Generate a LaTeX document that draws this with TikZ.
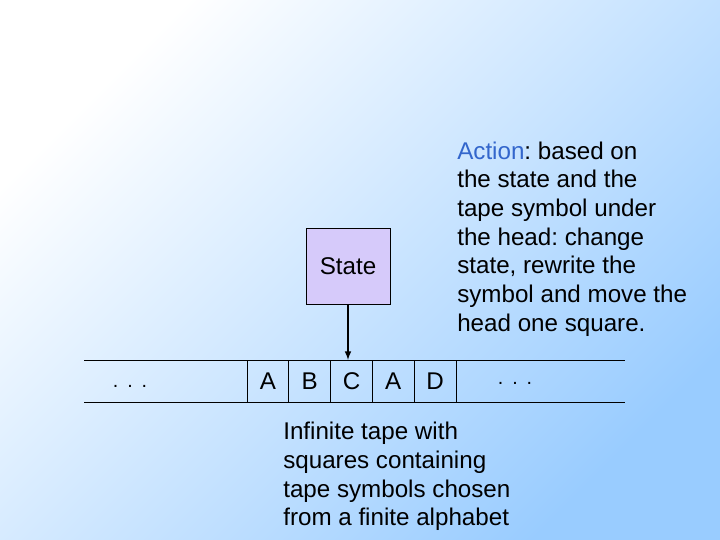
\documentclass[tikz,border=0pt]{standalone}
\usepackage{fontspec}
\setmainfont{Liberation Sans}
\usetikzlibrary{positioning}
\definecolor{bgblue}{RGB}{153,204,255}
\definecolor{statefill}{RGB}{214,202,250}
\definecolor{actionblue}{RGB}{51,102,204}
\frenchspacing
\newcommand{\tapedots}{.\hspace{0.45em}.\hspace{0.45em}.}
\tikzset{
  bigfont/.style = {font=\fontsize{17.2}{20.4}\selectfont},
  tapecell/.style = {draw, bigfont, line width=0.7pt, minimum width=1.045cm, minimum height=1.05cm, inner sep=0pt, outer sep=0pt},
  note/.style = {bigfont, anchor=north west, inner sep=0pt, align=left}
}

\begin{document}
\begin{tikzpicture}
\useasboundingbox (0,0) rectangle (18,13.5);
\shade[top color=white, bottom color=bgblue, shading angle=45] (0,0) rectangle (18,13.5);
\node[draw, line width=0.7pt, fill=statefill, bigfont, minimum width=2.1cm, minimum height=1.9cm] (st) at (8.7,6.85) {State};
\node[tapecell, anchor=north west] (c1) at (6.175,4.5) {A};
\node[tapecell, right=0pt of c1] (c2) {B};
\node[tapecell, right=0pt of c2] (c3) {C};
\node[tapecell, right=0pt of c3] (c4) {A};
\node[tapecell, right=0pt of c4] (c5) {D};
\coordinate (tl) at (2.1,4.5);
\coordinate (tr) at (15.625,4.5);
\coordinate (bl) at (2.1,3.45);
\coordinate (br) at (15.625,3.45);
\draw[line width=0.7pt] (tl) -- (tr);
\draw[line width=0.7pt] (bl) -- (br);
\node[font=\fontsize{14}{16}\selectfont, anchor=base] (ld) at (3.25,3.8) {\tapedots};
\node[font=\fontsize{14}{16}\selectfont, anchor=base] (rd) at (12.875,3.9) {\tapedots};
\draw[-latex, line width=1.1pt] (st.south) -- (st.south |- c3.north);
\node[note] (act) at (11.425,9.97) {\textcolor{actionblue}{Action}: based on\\the state and the\\tape symbol under\\the head: change\\state, rewrite the\\symbol and move the\\head one square.};
\node[note] (inf) at (7.075,2.95) {Infinite tape with\\squares containing\\tape symbols chosen\\from a finite alphabet};
\end{tikzpicture}
\end{document}
